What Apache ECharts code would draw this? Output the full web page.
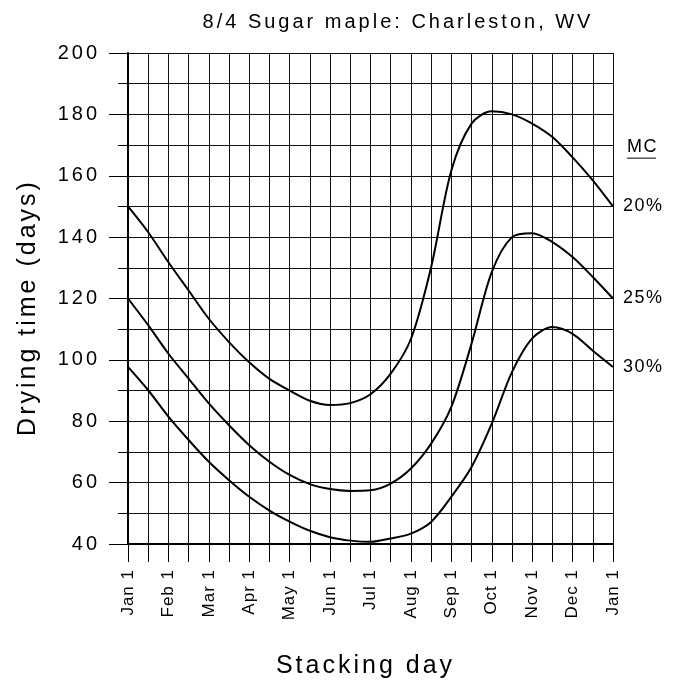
<!DOCTYPE html>
<html>
<head>
<meta charset="utf-8">
<script src="https://cdn.jsdelivr.net/npm/echarts@6/dist/echarts.min.js"></script>
<style>html,body{margin:0;padding:0;background:#fff;}#c{width:691px;height:687px;}</style>
</head>
<body>
<div id="c"></div>
<script>
// Half-month steps: index 0 = Jan 1, 2 = Feb 1, ... 24 = Jan 1 (next year)
const monthLabels = ['Jan 1','Feb 1','Mar 1','Apr 1','May 1','Jun 1','Jul 1','Aug 1','Sep 1','Oct 1','Nov 1','Dec 1','Jan 1'];
const mc20 = [150, 141.6, 131.8, 122.6, 113.4, 105.8, 99.2, 93.8, 90, 86.7, 85.3, 85.9, 88.8, 95.5, 106.8, 130.2, 161.7, 177, 181, 180, 177, 172.6, 166, 158.5, 150];
const mc25 = [120, 111.3, 102, 93.9, 85.8, 78.7, 72.2, 66.8, 62.5, 59.5, 57.9, 57.3, 57.5, 59.7, 64.6, 72.7, 84.7, 105.3, 128.6, 140, 141.3, 138.4, 133.5, 127, 120];
const mc30 = [97.7, 90.1, 81.5, 73.9, 66.8, 60.8, 55.4, 50.9, 47.3, 44.3, 42.2, 41.1, 40.7, 41.8, 43.4, 47.2, 55.4, 65.1, 79.2, 96, 107, 110.7, 108.5, 103, 97.7];
const seriesNames = ['20%', '25%', '30%'];
const legendTitle = 'MC';
const legendTitleValue = 169;

// letter spacing per font size, to mimic the spaced-out lettering of the original
const spacingBySize = {20: 3, 25: 3, 17: 1, 18: 1.5};
(function(){
  const P = CanvasRenderingContext2D.prototype;
  function sp(ctx){
    const m = /(\d+(?:\.\d+)?)px/.exec(ctx.font || '');
    const s = m ? spacingBySize[Math.round(parseFloat(m[1]))] : 0;
    return s ? s + 'px' : '0px';
  }
  const of = P.fillText, om = P.measureText;
  P.fillText = function(t, x, y, w){
    const prev = this.letterSpacing; this.letterSpacing = sp(this);
    const r = (w === undefined) ? of.call(this, t, x, y) : of.call(this, t, x, y, w);
    this.letterSpacing = prev || '0px'; return r;
  };
  P.measureText = function(t){
    const prev = this.letterSpacing; this.letterSpacing = sp(this);
    const r = om.call(this, t); this.letterSpacing = prev || '0px'; return r;
  };
})();

const FONT = "'Liberation Sans', Arial, sans-serif";
const chart = echarts.init(document.getElementById('c'), null, {renderer: 'canvas'});

function toPairs(arr){ return arr.map((v,i)=>[i,v]); }
function mkSeries(name, arr){
  return {
    type: 'line', name: name, data: toPairs(arr), smooth: 0.3, symbol: 'none',
    lineStyle: {color: '#000', width: 2}, clip: false,
    endLabel: {show: true, formatter: name, color: '#000', fontFamily: FONT, fontSize: 18, distance: 10},
    z: 5
  };
}

chart.setOption({
  animation: false,
  backgroundColor: '#fff',
  title: {
    text: '8/4 Sugar maple: Charleston, WV',
    left: 393, top: 6, textAlign: 'center',
    textStyle: {fontFamily: FONT, fontWeight: 'normal', fontSize: 20, color: '#000'}
  },
  grid: {left: 128, right: 78, top: 53, bottom: 143},
  xAxis: {
    type: 'value', min: 0, max: 24, interval: 1,
    name: 'Stacking day', nameLocation: 'middle', nameGap: 108,
    nameTextStyle: {fontFamily: FONT, fontSize: 25, color: '#000', padding: [0, 10, 0, 0]},
    axisLine: {show: true, onZero: false, lineStyle: {color: '#000', width: 2}},
    axisTick: {show: true, length: 18, lineStyle: {color: '#000', width: 1}},
    axisLabel: {
      rotate: 90, margin: 25, color: '#000', fontFamily: FONT, fontSize: 17,
      formatter: function(v){ return (v % 2 === 0) ? monthLabels[v/2] : ''; }
    },
    splitLine: {show: true, lineStyle: {color: '#111', width: 1}}
  },
  yAxis: {
    type: 'value', min: 40, max: 200, interval: 20,
    name: 'Drying time (days)', nameLocation: 'middle', nameGap: 86,
    nameTextStyle: {fontFamily: FONT, fontSize: 25, color: '#000', padding: [0, 18, 0, 0]},
    axisLine: {show: true, lineStyle: {color: '#000', width: 2}},
    axisTick: {show: true, length: 19, lineStyle: {color: '#000', width: 1}},
    minorTick: {show: true, splitNumber: 2, length: 10, lineStyle: {color: '#000', width: 1}},
    minorSplitLine: {show: true, lineStyle: {color: '#111', width: 1}},
    axisLabel: {margin: 28, color: '#000', fontFamily: FONT, fontSize: 20},
    splitLine: {show: true, lineStyle: {color: '#111', width: 1}}
  },
  series: [mkSeries(seriesNames[0], mc20), mkSeries(seriesNames[1], mc25), mkSeries(seriesNames[2], mc30)]
});

const p = chart.convertToPixel({gridIndex: 0}, [24, legendTitleValue]);
chart.setOption({
  graphic: [
    {type: 'text', left: p[0] + 14, top: p[1] - 11,
     style: {text: legendTitle, fill: '#000', font: '18px ' + FONT}},
    {type: 'line', shape: {x1: p[0] + 14, y1: p[1] + 10, x2: p[0] + 43, y2: p[1] + 10},
     style: {stroke: '#000', lineWidth: 1}}
  ]
});
</script>
</body>
</html>
